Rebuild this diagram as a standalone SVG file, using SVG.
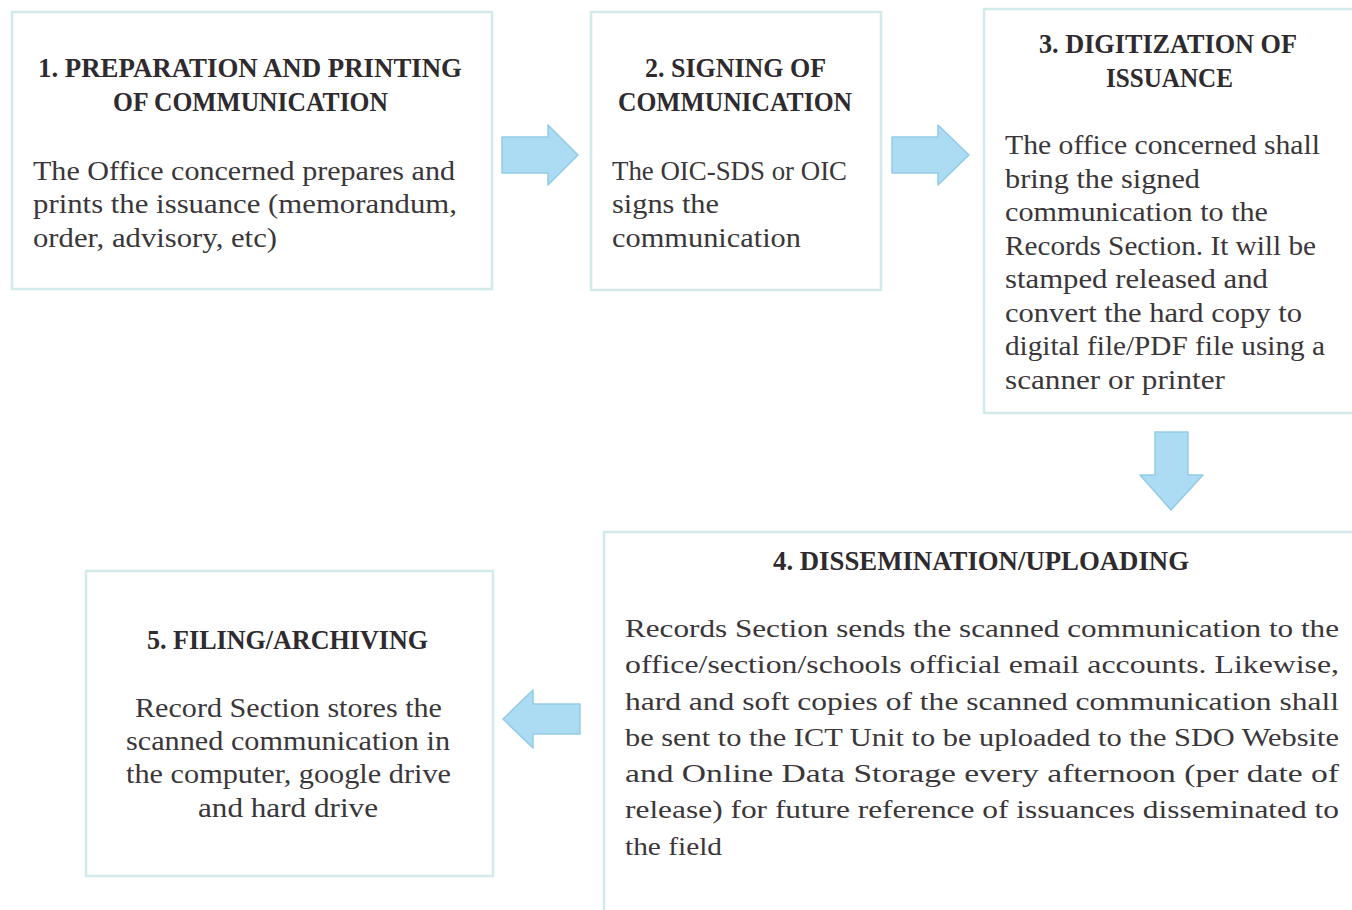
<svg xmlns="http://www.w3.org/2000/svg" width="1352" height="910" viewBox="0 0 1352 910">
<style>
.box{fill:#ffffff;stroke:#d2eaea;stroke-width:2.5}
.h{font-family:"Liberation Serif","DejaVu Serif",serif;font-weight:bold;font-size:27px;fill:#2e2a2e}
.b{font-family:"Liberation Serif","DejaVu Serif",serif;font-size:27px;fill:#3a3639}
.b4{font-family:"Liberation Serif","DejaVu Serif",serif;font-size:26px;fill:#3a3639}
.arrow{fill:#abdcf3;stroke:#94cbe6;stroke-width:1.5;stroke-linejoin:round}
</style>
<rect width="1352" height="910" fill="#ffffff"/>
<g id="connectors">
<polygon class="arrow" points="502,137 548,137 548,125 578,155 548,185 548,173 502,173"/>
<polygon class="arrow" points="892,137 938,137 938,125 969,155 938,185 938,173 892,173"/>
<polygon class="arrow" points="1155,432 1188,432 1188,475 1203,475 1171,510 1140,475 1155,475"/>
<polygon class="arrow" points="580,704 533,704 533,690 503,719 533,748 533,734 580,734"/>
</g>
<g id="node1">
<rect class="box" x="12" y="12" width="480" height="277"/>
<text class="h" x="38" y="77" textLength="424" lengthAdjust="spacingAndGlyphs">1. PREPARATION AND PRINTING</text>
<text class="h" x="113" y="111" textLength="275" lengthAdjust="spacingAndGlyphs">OF COMMUNICATION</text>
<text class="b" x="33" y="180" textLength="422" lengthAdjust="spacingAndGlyphs">The Office concerned prepares and</text>
<text class="b" x="33" y="213" textLength="424" lengthAdjust="spacingAndGlyphs">prints the issuance (memorandum,</text>
<text class="b" x="33" y="247" textLength="244" lengthAdjust="spacingAndGlyphs">order, advisory, etc)</text>
</g>
<g id="node2">
<rect class="box" x="591" y="12" width="290" height="278"/>
<text class="h" x="645" y="77" textLength="181" lengthAdjust="spacingAndGlyphs">2. SIGNING OF</text>
<text class="h" x="618" y="111" textLength="234" lengthAdjust="spacingAndGlyphs">COMMUNICATION</text>
<text class="b" x="612" y="180" textLength="235" lengthAdjust="spacingAndGlyphs">The OIC-SDS or OIC</text>
<text class="b" x="612" y="213" textLength="107" lengthAdjust="spacingAndGlyphs">signs the</text>
<text class="b" x="612" y="247" textLength="189" lengthAdjust="spacingAndGlyphs">communication</text>
</g>
<g id="node3">
<rect class="box" x="984" y="9" width="380" height="404"/>
<text class="h" x="1039" y="53" textLength="258" lengthAdjust="spacingAndGlyphs">3. DIGITIZATION OF</text>
<text class="h" x="1106" y="87" textLength="127" lengthAdjust="spacingAndGlyphs">ISSUANCE</text>
<text class="b" x="1005" y="154" textLength="315" lengthAdjust="spacingAndGlyphs">The office concerned shall</text>
<text class="b" x="1005" y="187.5" textLength="195" lengthAdjust="spacingAndGlyphs">bring the signed</text>
<text class="b" x="1005" y="221" textLength="263" lengthAdjust="spacingAndGlyphs">communication to the</text>
<text class="b" x="1005" y="254.5" textLength="311" lengthAdjust="spacingAndGlyphs">Records Section. It will be</text>
<text class="b" x="1005" y="288" textLength="263" lengthAdjust="spacingAndGlyphs">stamped released and</text>
<text class="b" x="1005" y="321.5" textLength="297" lengthAdjust="spacingAndGlyphs">convert the hard copy to</text>
<text class="b" x="1005" y="355" textLength="320" lengthAdjust="spacingAndGlyphs">digital file/PDF file using a</text>
<text class="b" x="1005" y="388.5" textLength="220" lengthAdjust="spacingAndGlyphs">scanner or printer</text>
</g>
<g id="node4">
<rect class="box" x="604" y="532" width="760" height="400"/>
<text class="h" x="773" y="570" textLength="416" lengthAdjust="spacingAndGlyphs">4. DISSEMINATION/UPLOADING</text>
<text class="b4" x="625" y="637" textLength="714" lengthAdjust="spacingAndGlyphs">Records Section sends the scanned communication to the</text>
<text class="b4" x="625" y="673" textLength="714" lengthAdjust="spacingAndGlyphs">office/section/schools official email accounts.  Likewise,</text>
<text class="b4" x="625" y="710" textLength="714" lengthAdjust="spacingAndGlyphs">hard and soft copies of the scanned communication shall</text>
<text class="b4" x="625" y="746" textLength="714" lengthAdjust="spacingAndGlyphs">be sent to the ICT Unit to be uploaded to the SDO Website</text>
<text class="b4" x="625" y="782" textLength="714" lengthAdjust="spacingAndGlyphs">and Online Data Storage every afternoon (per date of</text>
<text class="b4" x="625" y="818" textLength="714" lengthAdjust="spacingAndGlyphs">release) for future reference of issuances disseminated to</text>
<text class="b4" x="625" y="855" textLength="97" lengthAdjust="spacingAndGlyphs">the field</text>
</g>
<g id="node5">
<rect class="box" x="86" y="571" width="407" height="305"/>
<text class="h" x="147" y="649" textLength="281" lengthAdjust="spacingAndGlyphs">5. FILING/ARCHIVING</text>
<text class="b" x="135" y="717" textLength="307" lengthAdjust="spacingAndGlyphs">Record Section stores the</text>
<text class="b" x="126" y="750" textLength="324" lengthAdjust="spacingAndGlyphs">scanned communication in</text>
<text class="b" x="126" y="783" textLength="325" lengthAdjust="spacingAndGlyphs">the computer, google drive</text>
<text class="b" x="198" y="817" textLength="180" lengthAdjust="spacingAndGlyphs">and hard drive</text>
</g>
</svg>
